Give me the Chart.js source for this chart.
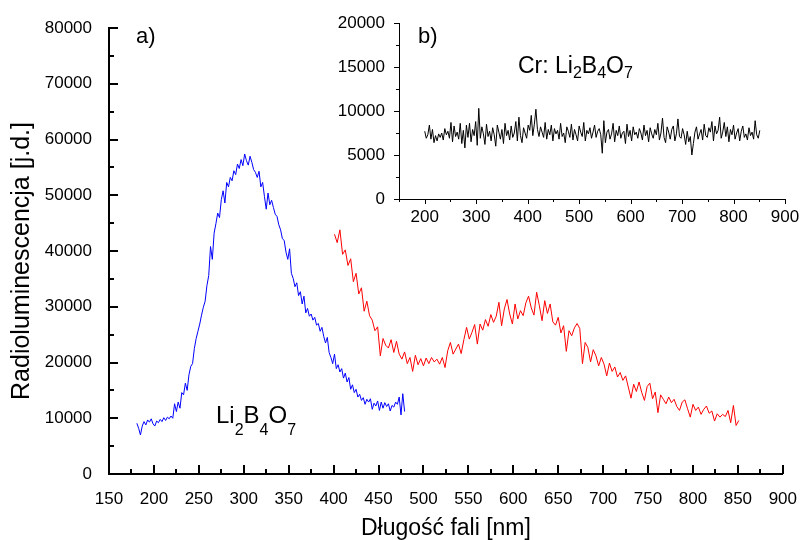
<!DOCTYPE html>
<html><head><meta charset="utf-8">
<script src="https://cdn.jsdelivr.net/npm/chart.js@4.4.0/dist/chart.umd.min.js"></script>
<style>
html,body{margin:0;padding:0;background:#fff;}
#wrap{position:relative;width:804px;height:540px;overflow:hidden;}
#main{position:absolute;left:0;top:0;}
#inset{position:absolute;left:330px;top:0;}
</style></head><body>
<div id="wrap"><canvas id="main" width="804" height="540"></canvas><canvas id="inset" width="474" height="232"></canvas></div>
<script>
// ---------- DATA ----------
const blueStart = 181, blueStep = 2;
const blueValues = [
9100, 8200, 7000, 8600, 9400, 8800, 9700, 9300, 9900, 9000,
8600, 9500, 9200, 9800, 9400, 10100, 9600, 10200, 9900, 10400,
10000, 12600, 11200, 12900, 11800, 14600, 14200, 16300, 15000, 17800,
19300, 19800, 22500, 24300, 25600, 26900, 28500, 29900, 31000, 33800,
35600, 40800, 38500, 43200, 44900, 46800, 46000, 49200, 50800, 48600,
52300, 51500, 53200, 52600, 54400, 53700, 55600, 54800, 56400, 55300,
57400, 56200, 55400, 57000, 55900, 54600, 54100, 53200, 54300, 51500,
52300, 49800, 47500, 50400, 48300, 49100, 47800, 46600, 46200, 44700,
43800, 42200, 41900, 39800, 38500, 40400, 36000, 35100, 33600, 34300,
32000, 32700, 30500, 31900, 28900, 29700, 28300, 28700, 27600, 28100,
26700, 27000, 25600, 26300, 24700, 23500, 24500, 21800, 20900, 19800,
21500, 18900, 19600, 18300, 18900, 17200, 18100, 16500, 17300, 15200,
16000, 14600, 15200, 13800, 14300, 13200, 13700, 12500, 13400, 12900,
13500, 11600, 12700, 12200, 13100, 11400, 12900, 11800, 12800, 12100,
12600, 11300, 12300, 12000, 12900, 12500, 13800, 10600, 14400, 11200
];
const redStart = 401, redStep = 3;
const redValues = [
43000, 41500, 43800, 39400, 40200, 37400, 38600, 34500, 36000, 32300,
33400, 29200, 31000, 28400, 27600, 25700, 26400, 21200, 24300, 23100,
22600, 24100, 21800, 23800, 21500, 20600, 21900, 19800, 20900, 18400,
21300, 19600, 20700, 19400, 20800, 19800, 20900, 20100, 20600, 19700,
20900, 19100, 22100, 23600, 21500, 22400, 23300, 21600, 24100, 26300,
24200, 25400, 26800, 23300, 26900, 25800, 27700, 26500, 28600, 27200,
28300, 30800, 26600, 29600, 31300, 28700, 26900, 30500, 27800, 29300,
28400, 30700, 31900, 29800, 28500, 32600, 30200, 27500, 31100, 28800,
30500, 27300, 26700, 28100, 25300, 26600, 22000, 25700, 24800, 26200,
27000, 26100, 19800, 23600, 22700, 20100, 22300, 21200, 19400, 20900,
19700, 17600, 19900, 18400, 19200, 17400, 18200, 16800, 17600, 15600,
13600, 16100, 14800, 16500, 14600, 13200, 15700, 16300, 13500, 14700,
11000, 14200, 13400, 12600, 13800, 12800, 13400, 12100, 11400, 12900,
13300, 11700, 10200, 12500, 11400, 12000, 10700, 11600, 12200, 10900,
11300, 9500, 10800, 10200, 10700, 10300, 11400, 9200, 12300, 8700, 9600
];
const insetStart = 200, insetStep = 3;
const insetValues = [
7700, 6900, 7300, 8400, 6800, 7900, 6400, 7200, 6600, 7400,
7000, 7500, 6700, 8000, 7300, 7700, 6900, 8700, 6500, 8300,
7100, 7600, 6800, 8600, 6300, 7800, 5800, 8400, 7000, 8600,
6500, 7900, 7200, 8800, 6100, 10300, 6900, 8200, 7400, 6200,
8500, 7100, 7700, 6600, 8100, 7300, 6000, 8400, 7600, 6800,
7900, 6300, 8600, 7200, 7800, 6700, 8300, 7000, 7500, 8800,
6600, 9300, 7200, 6400, 8100, 7500, 6900, 8400, 7800, 9500,
7200, 8500, 10200, 7900, 7100, 8200, 7600, 7000, 8700, 6800,
7900, 7300, 8400, 6600, 8000, 7400, 7800, 6800, 8600, 7100,
7500, 6400, 8200, 7700, 7000, 8500, 6700, 7900, 7300, 6600,
8300, 7600, 7100, 8700, 6600, 7800, 7400, 8100, 6900, 7600,
8400, 7000, 7700, 8000, 7300, 5200, 8900, 6400, 7600, 7900,
6800, 7400, 8600, 6500, 7800, 7200, 8300, 6900, 7500, 7700,
6300, 8500, 7100, 7800, 6600, 8200, 7300, 7600, 6900, 8000,
7500, 6700, 8400, 7200, 7800, 6500, 8100, 7400, 6900, 7900,
7300, 8600, 6700, 7500, 9200, 7000, 6400, 8200, 7600, 6800,
7900, 8300, 6600, 7400, 9100, 7100, 6900, 8000, 7300, 6200,
7700, 6500, 7100, 5000, 6300, 7600, 8200, 6800, 7400, 7900,
6700, 8500, 7200, 7000, 8100, 7600, 8800, 6600, 8300, 7400,
7800, 9300, 6900, 7600, 8700, 7100, 8200, 6500, 7900, 7300,
8400, 6800, 7500, 8000, 6600, 7700, 8300, 7000, 7400, 6700,
8100, 7200, 7600, 6800, 8900, 7300, 6900, 7800
];
const mainXTickLabels = [150,200,250,300,350,400,450,500,550,600,650,700,750,800,850,900];
const mainYTickLabels = [0,10000,20000,30000,40000,50000,60000,70000,80000];
const insetXTickLabels = [200,300,400,500,600,700,800,900];
const insetYTickLabels = [0,5000,10000,15000,20000];

const xTitle = 'Długość fali [nm]';
const yTitle = 'Radioluminescencja [j.d.]';

// ---------- HELPERS ----------
function toPoints(start, step, vals){ return vals.map((v,i)=>({x:start+i*step, y:v})); }
const FONT = "'Liberation Sans', Arial, sans-serif";
const plain = v => String(v);

function tickPlugin(o){
  return { id:'tk'+o.id, afterDraw(chart){
    const ctx = chart.ctx, xs = chart.scales.x, ys = chart.scales.y, a = chart.chartArea;
    ctx.save(); ctx.strokeStyle = '#000'; ctx.lineWidth = o.lw; ctx.beginPath();
    const off = o.lw % 2 ? 0.5 : 0;
    for (let v = xs.min; v <= xs.max + 1e-6; v += o.xMinor){
      const major = Math.abs((v - o.xMajorBase) % o.xMajor) < 1e-6;
      const p = Math.round(xs.getPixelForValue(v)) + off;
      const L = major ? o.majorLen : o.minorLen;
      ctx.moveTo(p, a.bottom); ctx.lineTo(p, a.bottom + o.xDir * L);
    }
    for (let v = ys.min; v <= ys.max + 1e-6; v += o.yMinor){
      const major = Math.abs(v % o.yMajor) < 1e-6;
      const p = Math.round(ys.getPixelForValue(v)) + off;
      const L = major ? o.majorLen : o.minorLen;
      ctx.moveTo(a.left, p); ctx.lineTo(a.left + o.yDir * L, p);
    }
    ctx.stroke(); ctx.restore();
  }};
}
function drawParts(ctx, parts, x, y, size, subSize, subDy){
  let cx = x;
  ctx.textBaseline = 'alphabetic'; ctx.textAlign = 'left'; ctx.fillStyle = '#000';
  for (const [t, sub] of parts){
    ctx.font = (sub ? subSize : size) + 'px ' + FONT;
    ctx.fillText(t, cx, sub ? y + subDy : y);
    cx += ctx.measureText(t).width;
  }
}

// ---------- MAIN CHART ----------
new Chart(document.getElementById('main'), {
  type: 'line',
  data: { datasets: [
    { data: toPoints(blueStart, blueStep, blueValues), borderColor:'#0000ff', borderWidth:1, pointRadius:0, tension:0 },
    { data: toPoints(redStart, redStep, redValues), borderColor:'#ff0000', borderWidth:1, pointRadius:0, tension:0 }
  ]},
  options: {
    responsive:false, animation:false, devicePixelRatio:1,
    layout:{ padding:{ left:0, top:28, right:15, bottom:0 } },
    plugins:{ legend:{display:false}, tooltip:{enabled:false} },
    scales:{
      x:{ type:'linear', min:150, max:900,
        afterBuildTicks: s => { s.ticks = mainXTickLabels.map(v=>({value:v})); },
        afterFit: s => { s.height = 66; },
        grid:{ display:false }, border:{ display:true, color:'#000', width:2 },
        ticks:{ color:'#000', font:{ family:FONT, size:17 }, padding:7, maxRotation:0, autoSkip:false, callback:plain },
        title:{ display:true, text:xTitle, color:'#000', font:{ family:FONT, size:23, lineHeight:1 }, padding:{top:0,bottom:0} }
      },
      y:{ type:'linear', min:0, max:80000,
        afterBuildTicks: s => { s.ticks = mainYTickLabels.map(v=>({value:v})); },
        afterFit: s => { s.width = 109; },
        grid:{ display:false }, border:{ display:true, color:'#000', width:2 },
        ticks:{ color:'#000', font:{ family:FONT, size:17 }, padding:9, autoSkip:false, callback:plain },
        title:{ display:false }
      }
    }
  },
  plugins:[
    tickPlugin({ id:'m', lw:2, xMinor:25, xMajor:50, xMajorBase:150, yMinor:5000, yMajor:10000, majorLen:9, minorLen:5, xDir:-1, yDir:1 }),
    { id:'annM', afterDraw(chart){
        const ctx = chart.ctx; ctx.save();
        // y axis title (real text)
        ctx.save();
        ctx.translate(22, 261); ctx.rotate(-Math.PI/2);
        ctx.font = '25px ' + FONT; ctx.fillStyle = '#000'; ctx.textAlign = 'center'; ctx.textBaseline = 'middle';
        ctx.fillText(yTitle, 0, 0);
        ctx.restore();
        drawParts(ctx, [['a)',0]], 136, 43, 22, 14, 0);
        drawParts(ctx, [['Li',0],['2',1],['B',0],['4',1],['O',0],['7',1]], 216, 423, 24, 16, 12);
        ctx.restore();
    }}
  ]
});

// ---------- INSET CHART ----------
new Chart(document.getElementById('inset'), {
  type: 'line',
  data: { datasets: [
    { data: toPoints(insetStart, insetStep, insetValues), borderColor:'#000000', borderWidth:1, pointRadius:0, tension:0 }
  ]},
  options: {
    responsive:false, animation:false, devicePixelRatio:1,
    layout:{ padding:{ left:0, top:23, right:19, bottom:0 } },
    plugins:{ legend:{display:false}, tooltip:{enabled:false} },
    scales:{
      x:{ type:'linear', min:150, max:900,
        afterBuildTicks: s => { s.ticks = insetXTickLabels.map(v=>({value:v})); },
        afterFit: s => { s.height = 33; },
        grid:{ display:false }, border:{ display:true, color:'#000', width:1 },
        ticks:{ color:'#000', font:{ family:FONT, size:17 }, padding:0, maxRotation:0, autoSkip:false, callback:plain }
      },
      y:{ type:'linear', min:0, max:20000,
        afterBuildTicks: s => { s.ticks = insetYTickLabels.map(v=>({value:v})); },
        afterFit: s => { s.width = 69; },
        grid:{ display:false }, border:{ display:true, color:'#000', width:1 },
        ticks:{ color:'#000', font:{ family:FONT, size:17 }, padding:6, autoSkip:false, callback:plain }
      }
    }
  },
  plugins:[
    tickPlugin({ id:'i', lw:1, xMinor:50, xMajor:100, xMajorBase:200, yMinor:2500, yMajor:5000, majorLen:5, minorLen:3, xDir:1, yDir:-1 }),
    { id:'annI', afterDraw(chart){
        const ctx = chart.ctx; ctx.save();
        drawParts(ctx, [['b)',0]], 418-330, 43, 22, 14, 0);
        drawParts(ctx, [['Cr: Li',0],['2',1],['B',0],['4',1],['O',0],['7',1]], 518-330, 73, 23, 16, 5);
        ctx.restore();
    }}
  ]
});
</script>
</body></html>
